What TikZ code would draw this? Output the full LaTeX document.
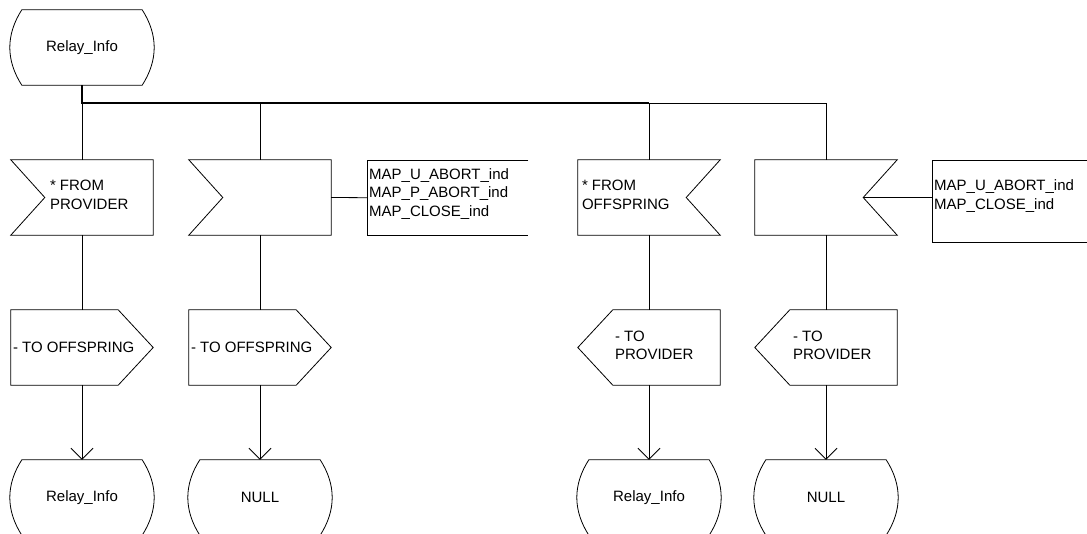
\documentclass[tikz,border=0pt]{standalone}
\usepackage{fontspec}
\setmainfont{Liberation Sans}
\usetikzlibrary{calc,arrows.meta}
\tikzset{
  ln/.style={draw=black, line width=0.8pt},
  busline/.style={draw=black, line width=1.8pt},
  frame/.style={draw=none, inner sep=0pt, minimum height=75pt},
  txt/.style={font=\fontsize{15}{18.5}\selectfont, align=left, inner sep=0pt},
  arr/.style={ln, -{Straight Barb[length=11pt,width=22pt]}},
}
\newcommand\sdlState[1]{\draw[ln] ($(#1.north west)+(12,0)$) -- ($(#1.north east)+(-12,0)$) .. controls ($(#1.north east)+(4,25)$) and ($(#1.south east)+(4,-25)$) .. ($(#1.south east)+(-12,0)$) -- ($(#1.south west)+(12,0)$) .. controls ($(#1.south west)+(-4,-25)$) and ($(#1.north west)+(-4,25)$) .. cycle;}
\newcommand\sdlInL[1]{\draw[ln] (#1.north west) -- (#1.north east) -- (#1.south east) -- (#1.south west) -- ($(#1.west)+(34,0)$) -- cycle;}
\newcommand\sdlInR[1]{\draw[ln] (#1.north west) -- (#1.north east) -- ($(#1.east)+(-34,0)$) -- (#1.south east) -- (#1.south west) -- cycle;}
\newcommand\sdlOutR[1]{\draw[ln] (#1.north west) -- ($(#1.north east)+(-35,0)$) -- (#1.east) -- ($(#1.south east)+(-35,0)$) -- (#1.south west) -- cycle;}
\newcommand\sdlOutL[1]{\draw[ln] (#1.west) -- ($(#1.north west)+(35,0)$) -- (#1.north east) -- (#1.south east) -- ($(#1.south west)+(35,0)$) -- cycle;}
\begin{document}
\begin{tikzpicture}[x=1pt,y=-1pt]
\useasboundingbox (0,0) rectangle (1087,533);
\clip (0,0) rectangle (1087,533);

% start state
\node[frame, txt, minimum width=144pt, minimum height=75pt] (s0) at (82,47.5) {Relay\_Info};
\sdlState{s0}

% bus
\coordinate (b1) at (82,103);
\coordinate (b2) at (260,103);
\coordinate (b3) at (649,103);
\coordinate (b4) at (826,103);
\draw[busline] (s0.south) -- (b1) -- (b3);
\draw[ln] (b3) -- (b4);

% inputs
\node[frame, minimum width=142pt] (in1) at (82,197.5) {};
\node[frame, minimum width=142pt] (in2) at (260,197.5) {};
\node[frame, minimum width=142pt] (in3) at (649,197.5) {};
\node[frame, minimum width=142pt] (in4) at (826,197.5) {};
\sdlInL{in1}\sdlInL{in2}\sdlInR{in3}\sdlInR{in4}
\node[txt, anchor=west] (in1t) at ($(in1.west)+(39,-2.5)$) {* FROM\\PROVIDER};
\node[txt, anchor=west] (in3t) at ($(in3.west)+(4,-2.5)$) {* FROM\\OFFSPRING};

% comments
\node[frame, minimum width=161pt, minimum height=75pt, anchor=north west] (cm1) at (367,160) {};
\node[frame, minimum width=156pt, minimum height=82pt, anchor=north west] (cm2) at (932,160) {};
\draw[ln] (cm1.north east) -- (cm1.north west) -- (cm1.south west) -- (cm1.south east);
\draw[ln] (cm2.north east) -- (cm2.north west) -- (cm2.south west) -- (cm2.south east);
\node[txt, anchor=west] (cm1t) at ($(cm1.west)+(2,-4)$) {MAP\_U\_ABORT\_ind\\MAP\_P\_ABORT\_ind\\MAP\_CLOSE\_ind};
\node[txt, anchor=west] (cm2t) at ($(cm2.west)+(2,-5)$) {MAP\_U\_ABORT\_ind\\MAP\_CLOSE\_ind};
\draw[ln] (in2.east) -- (cm1.west);
\draw[ln] ($(in4.east)+(-34,0)$) -- (cm2.west |- in4.east);

% outputs
\node[frame, minimum width=142pt] (out1) at (82,347.5) {};
\node[frame, minimum width=142pt] (out2) at (260,347.5) {};
\node[frame, minimum width=142pt] (out3) at (649,347.5) {};
\node[frame, minimum width=142pt] (out4) at (826,347.5) {};
\sdlOutR{out1}\sdlOutR{out2}\sdlOutL{out3}\sdlOutL{out4}
\node[txt, anchor=west] (out1t) at ($(out1.west)+(2,0)$) {- TO OFFSPRING};
\node[txt, anchor=west] (out2t) at ($(out2.west)+(2,0)$) {- TO OFFSPRING};
\node[txt, anchor=west] (out3t) at ($(out3.west)+(37,-2)$) {- TO\\PROVIDER};
\node[txt, anchor=west] (out4t) at ($(out4.west)+(38,-2)$) {- TO\\PROVIDER};

% next states
\node[frame, txt, minimum width=144pt, minimum height=75pt] (st1) at (82,497.5) {Relay\_Info};
\node[frame, txt, minimum width=144pt, minimum height=75pt] (st2) at (260,497.5) {NULL};
\node[frame, txt, minimum width=144pt, minimum height=75pt] (st3) at (649,497.5) {Relay\_Info};
\node[frame, txt, minimum width=144pt, minimum height=75pt] (st4) at (826,497.5) {NULL};
\sdlState{st1}\sdlState{st2}\sdlState{st3}\sdlState{st4}

% connectors
\draw[ln] (b1) -- (in1.north);
\draw[ln] (b2) -- (in2.north);
\draw[ln] (b3) -- (in3.north);
\draw[ln] (b4) -- (in4.north);
\draw[ln] (in1.south) -- (out1.north);
\draw[ln] (in2.south) -- (out2.north);
\draw[ln] (in3.south) -- (out3.north);
\draw[ln] (in4.south) -- (out4.north);
\draw[arr] (out1.south) -- (st1.north);
\draw[arr] (out2.south) -- (st2.north);
\draw[arr] (out3.south) -- (st3.north);
\draw[arr] (out4.south) -- (st4.north);
\end{tikzpicture}
\end{document}
